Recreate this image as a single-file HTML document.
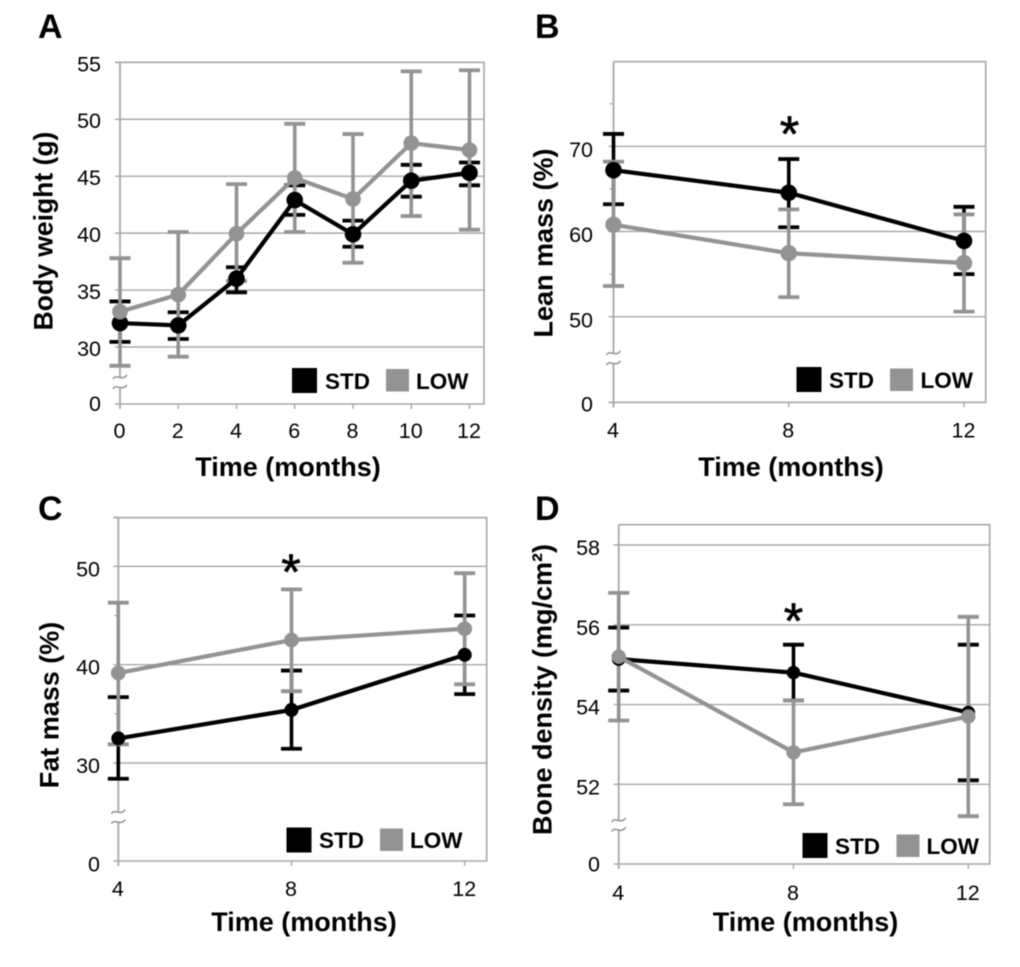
<!DOCTYPE html>
<html lang="en">
<head>
<meta charset="utf-8">
<title>Body composition over time, STD vs LOW</title>
<style>
html,body{margin:0;padding:0;background:#fff;width:1020px;height:967px;overflow:hidden}
svg{display:block;filter:blur(0.45px)}
text{font-family:"Liberation Sans",Arial,sans-serif;fill:#000}
.letter{font-size:34px;font-weight:bold}
.title{font-size:27px;font-weight:bold}
.tick{font-size:21.5px}
.leg{font-size:22.5px;font-weight:bold}
.star{font-size:50px;stroke:#000;stroke-width:0.7px}
</style>
</head>
<body>
<svg id="figure" width="1020" height="967" viewBox="0 0 1020 967" xmlns="http://www.w3.org/2000/svg">

<g>
  <g id="marks-a"></g>
  <text class="letter" x="38" y="38">A</text>
  <text class="title" text-anchor="middle" x="288" y="476">Time (months)</text>
  <text class="title" style="font-size:26.5px" text-anchor="middle" transform="translate(52.5 231) rotate(-90)">Body weight (g)</text>
  <g>
    <rect x="292" y="368" width="25" height="25" fill="#000"/>
    <text class="leg" x="325" y="389">STD</text>
    <rect x="386" y="369" width="23" height="22.500" fill="#939393"/>
    <text class="leg" x="416" y="389">LOW</text>
  </g>
</g>

<g>
  <g id="marks-b"></g>
  <text class="letter" x="535" y="38">B</text>
  <text class="title" text-anchor="middle" x="791" y="476">Time (months)</text>
  <text class="title" text-anchor="middle" transform="translate(552.5 243) rotate(-90)">Lean mass (%)</text>
  <text class="star" text-anchor="middle" x="789.500" y="151">*</text>
  <g>
    <rect x="796.500" y="367" width="25" height="25" fill="#000"/>
    <text class="leg" x="829" y="388">STD</text>
    <rect x="890" y="368.500" width="23" height="22.500" fill="#939393"/>
    <text class="leg" x="920.500" y="388">LOW</text>
  </g>
</g>

<g>
  <g id="marks-c"></g>
  <text class="letter" x="38" y="520">C</text>
  <text class="title" text-anchor="middle" x="304" y="931">Time (months)</text>
  <text class="title" text-anchor="middle" transform="translate(58.5 705) rotate(-90)">Fat mass (%)</text>
  <text class="star" text-anchor="middle" x="291" y="589">*</text>
  <g>
    <rect x="286.500" y="827.500" width="25" height="25" fill="#000"/>
    <text class="leg" x="319" y="848">STD</text>
    <rect x="380" y="828.500" width="23" height="22.500" fill="#939393"/>
    <text class="leg" x="410" y="848">LOW</text>
  </g>
</g>

<g>
  <g id="marks-d"></g>
  <text class="letter" x="535" y="520">D</text>
  <text class="title" text-anchor="middle" x="805.500" y="931">Time (months)</text>
  <text class="title" text-anchor="middle" transform="translate(551.5 689.500) rotate(-90)">Bone density (mg/cm²)</text>
  <text class="star" text-anchor="middle" x="793.500" y="638">*</text>
  <g>
    <rect x="802.500" y="833" width="25" height="25" fill="#000"/>
    <text class="leg" x="835" y="854">STD</text>
    <rect x="896.500" y="834.500" width="23" height="22.500" fill="#939393"/>
    <text class="leg" x="926.500" y="854">LOW</text>
  </g>
</g>
</svg>

<script>
// Panel A: body weight (g)
const aMonths = [0, 2, 4, 6, 8, 10, 12];
const aYTicks = [0, 30, 35, 40, 45, 50, 55];
const aMinorTicks = [];
const aStd = [32.1, 31.9, 36.0, 42.9, 39.9, 44.6, 45.3];
const aStdUpper = [34.0, 33.05, 37.0, 44.2, 41.1, 46.0, 46.2];
const aStdLower = [30.45, 30.7, 34.8, 41.6, 38.8, 43.2, 44.2];
const aLow = [33.1, 34.6, 39.95, 44.85, 43.0, 47.9, 47.3];
const aLowUpper = [37.8, 40.1, 44.3, 49.6, 48.7, 54.2, 54.3];
const aLowLower = [28.35, 29.15, 35.8, 40.1, 37.4, 41.5, 40.3];

// Panel B: lean mass (%)
const bMonths = [4, 8, 12];
const bYTicks = [0, 50, 60, 70];
const bMinorTicks = [55, 65, 75];
const bStd = [67.2, 64.55, 58.9];
const bStdUpper = [71.45, 68.5, 62.9];
const bStdLower = [63.2, 60.5, 55.0];
const bLow = [60.8, 57.45, 56.3];
const bLowUpper = [68.2, 62.6, 62.0];
const bLowLower = [53.6, 52.3, 50.6];

// Panel C: fat mass (%)
const cMonths = [4, 8, 12];
const cYTicks = [0, 30, 40, 50];
const cMinorTicks = [25, 35, 45, 55];
const cStd = [32.5, 35.4, 41.0];
const cStdUpper = [36.7, 39.4, 45.0];
const cStdLower = [28.4, 31.45, 37.0];
const cLow = [39.15, 42.5, 43.65];
const cLowUpper = [46.3, 47.65, 49.3];
const cLowLower = [31.9, 37.3, 38.0];

// Panel D: bone density (mg/cm2)
const dMonths = [4, 8, 12];
const dYTicks = [0, 52, 54, 56, 58];
const dMinorTicks = [];
const dStd = [55.14, 54.8, 53.8];
const dStdUpper = [55.93, 55.5, 55.5];
const dStdLower = [54.35, 54.1, 52.1];
const dLow = [55.2, 52.8, 53.7];
const dLowUpper = [56.8, 54.1, 56.2];
const dLowLower = [53.6, 51.5, 51.2];

const SVG_NS = 'http://www.w3.org/2000/svg';
const GRID = '#a8a8a8';
const GRAY = '#939393';
const BLACK = '#000000';

function node(parent, tag) {
  const el = document.createElementNS(SVG_NS, tag);
  parent.appendChild(el);
  return el;
}
function seg(el, x1, y1, x2, y2, color, width) {
  el.setAttribute('x1', x1);
  el.setAttribute('y1', y1);
  el.setAttribute('x2', x2);
  el.setAttribute('y2', y2);
  el.setAttribute('stroke', color);
  el.setAttribute('stroke-width', width);
}

function drawPanel(id, layout, months, yTicks, minorTicks, series) {
  const root = document.getElementById(id);
  const xScale = i => layout.x0 + i * (layout.x1 - layout.x0) / (months.length - 1);
  const k = (layout.pxLo - layout.pxHi) / (layout.vHi - layout.vLo);
  const yScale = v => layout.pxLo - (v - layout.vLo) * k;
  const tickY = v => (v === 0 ? layout.bottom : yScale(v));

  // gridlines
  yTicks.forEach(v => {
    if (v === 0) return;
    const el = node(root, 'line');
    
    
    seg(el, layout.left - 5, tickY(v), layout.right, tickY(v), GRID, 1.4);
  });

  // frame
  const top = node(root, 'line');
  
  
  seg(top, layout.left - (layout.topTick ? 5 : 0), layout.top, layout.right + 0.8, layout.top, GRID, 1.6);
  const right = node(root, 'line');
  
  
  seg(right, layout.right, layout.top, layout.right, layout.bottom, GRID, 1.6);
  const bottom = node(root, 'line');
  
  
  seg(bottom, layout.left - 5, layout.bottom, layout.right + 0.8, layout.bottom, GRID, 1.6);

  // y axis with break
  const stemTop = node(root, 'line');
  
  
  seg(stemTop, layout.left, layout.top, layout.left, layout.brk1, GRID, 1.8);
  const stemBottom = node(root, 'line');
  
  
  seg(stemBottom, layout.left, layout.brk2, layout.left, layout.bottom + 5, GRID, 1.8);
  [layout.brk1, layout.brk2].forEach(by => {
    const w = node(root, 'path');
    
    
    const x = layout.left;
    w.setAttribute('d', 'M' + (x - 7) + ' ' + (by + 2) + ' C' + (x - 3) + ' ' + (by - 4) + ',' + (x + 1) + ' ' + (by + 5) + ',' + (x + 7) + ' ' + (by - 2));
    w.setAttribute('fill', 'none');
    w.setAttribute('stroke', '#8c8c8c');
    w.setAttribute('stroke-width', 1.4);
  });

  // minor y ticks
  minorTicks.forEach(v => {
    const el = node(root, 'line');
    
    
    seg(el, layout.left - 4, yScale(v), layout.left, yScale(v), GRID, 1.2);
  });

  // y tick labels
  yTicks.forEach(v => {
    const el = node(root, 'text');
    
    
    el.setAttribute('class', 'tick');
    el.setAttribute('text-anchor', 'end');
    el.setAttribute('x', layout.labelX);
    el.setAttribute('y', tickY(v) + (v === 0 ? layout.zeroDy : layout.labelDy));
    el.textContent = v;
  });

  // x ticks and labels
  months.forEach((m, i) => {
    const t = node(root, 'line');
    
    
    seg(t, xScale(i), layout.bottom, xScale(i), layout.bottom + 5, GRID, 1.4);
    const el = node(root, 'text');
    
    
    el.setAttribute('class', 'tick');
    el.setAttribute('text-anchor', 'middle');
    el.setAttribute('x', xScale(i) - 0.5);
    el.setAttribute('y', layout.xLabelY);
    el.textContent = m;
  });

  function errorBars(upper, lower, color) {
    upper.forEach((u, i) => {
      const x = xScale(i);
      const stem = node(root, 'line');
      
      
      seg(stem, x, yScale(u), x, yScale(lower[i]), color, 3.6);
      const capU = node(root, 'line');
      
      
      seg(capU, x - 10.5, yScale(u), x + 10.5, yScale(u), color, 3.8);
      const capL = node(root, 'line');
      
      
      seg(capL, x - 10.5, yScale(lower[i]), x + 10.5, yScale(lower[i]), color, 3.8);
    });
  }
  function lineAndPoints(values, color, radius) {
    const line = node(root, 'polyline');
    
    
    line.setAttribute('points', values.map((v, i) => xScale(i) + ',' + yScale(v)).join(' '));
    line.setAttribute('fill', 'none');
    line.setAttribute('stroke', color);
    line.setAttribute('stroke-width', 4.2);
    values.forEach((v, i) => {
      const c = node(root, 'circle');
      
      
      c.setAttribute('cx', xScale(i));
      c.setAttribute('cy', yScale(v));
      c.setAttribute('r', radius);
      c.setAttribute('fill', color);
    });
  }

  errorBars(series.stdUpper, series.stdLower, BLACK);
  errorBars(series.lowUpper, series.lowLower, GRAY);
  lineAndPoints(series.std, BLACK, layout.stdR);
  lineAndPoints(series.low, GRAY, layout.lowR);
}

drawPanel('marks-a',
  {left:120, right:484, top:62.3, bottom:404, x0:120, x1:469.5, vLo:30, pxLo:347, vHi:55, pxHi:62.3,
   brk1:377, brk2:387, labelX:101, labelDy:9, zeroDy:7, xLabelY:438, stdR:8.3, lowR:7.8, topTick:true},
  aMonths, aYTicks, aMinorTicks,
  {std:aStd, stdUpper:aStdUpper, stdLower:aStdLower, low:aLow, lowUpper:aLowUpper, lowLower:aLowLower});

drawPanel('marks-b',
  {left:613.5, right:985.7, top:61.7, bottom:402.3, x0:613.5, x1:964, vLo:50, pxLo:316.7, vHi:70, pxHi:146.3,
   brk1:353, brk2:363, labelX:593, labelDy:10.7, zeroDy:9.4, xLabelY:437.7, stdR:8.3, lowR:8.2, topTick:false},
  bMonths, bYTicks, bMinorTicks,
  {std:bStd, stdUpper:bStdUpper, stdLower:bStdLower, low:bLow, lowUpper:bLowUpper, lowLower:bLowLower});

drawPanel('marks-c',
  {left:118.3, right:486.7, top:517.7, bottom:861, x0:118.3, x1:464.7, vLo:30, pxLo:763, vHi:50, pxHi:566.3,
   brk1:811.7, brk2:821.7, labelX:100, labelDy:10, zeroDy:10.7, xLabelY:896, stdR:7, lowR:7.4, topTick:true},
  cMonths, cYTicks, cMinorTicks,
  {std:cStd, stdUpper:cStdUpper, stdLower:cStdLower, low:cLow, lowUpper:cLowUpper, lowLower:cLowLower});

drawPanel('marks-d',
  {left:618.7, right:989.7, top:524.7, bottom:864, x0:618.7, x1:968.3, vLo:52, pxLo:784.3, vHi:58, pxHi:545,
   brk1:820, brk2:829.5, labelX:600, labelDy:10, zeroDy:7.7, xLabelY:900, stdR:6.8, lowR:7.2, topTick:false},
  dMonths, dYTicks, dMinorTicks,
  {std:dStd, stdUpper:dStdUpper, stdLower:dStdLower, low:dLow, lowUpper:dLowUpper, lowLower:dLowLower});
</script>
</body>
</html>
